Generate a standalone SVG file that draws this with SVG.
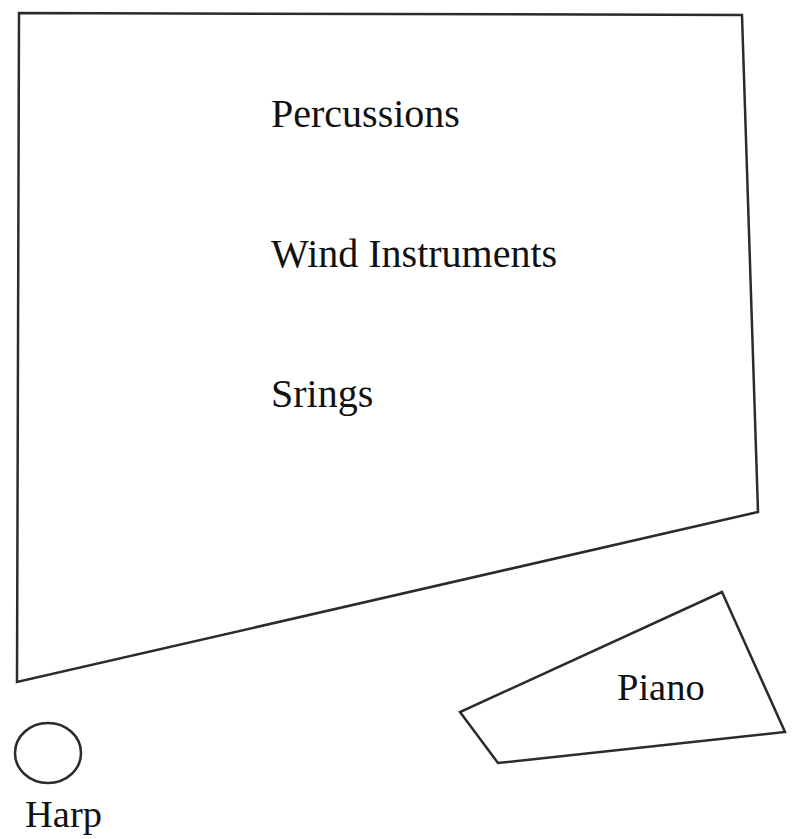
<svg xmlns="http://www.w3.org/2000/svg" width="794" height="839" viewBox="0 0 794 839">
<style>
.shape{fill:none;stroke:#2b2b2b;stroke-width:2.5;stroke-linejoin:miter}
.lbl{font-family:"Liberation Serif","DejaVu Serif",serif;font-size:38.5px;fill:#111111}
.big{font-size:40px}
</style>
<rect width="794" height="839" fill="#ffffff"/>
<g id="orchestra">
<polygon class="shape" points="19,13 742,15 758,512 17,682"/>
<text class="lbl big" x="271" y="127">Percussions</text>
<text class="lbl big" x="271" y="267">Wind Instruments</text>
<text class="lbl big" x="271" y="407">Srings</text>
</g>
<g id="piano">
<polygon class="shape" points="722,592 785,732 498,763 460,712"/>
<text class="lbl" x="617" y="700">Piano</text>
</g>
<g id="harp">
<ellipse class="shape" cx="48" cy="753" rx="33" ry="30"/>
<text class="lbl" x="25" y="827">Harp</text>
</g>
<g id="connectors"/>
</svg>
